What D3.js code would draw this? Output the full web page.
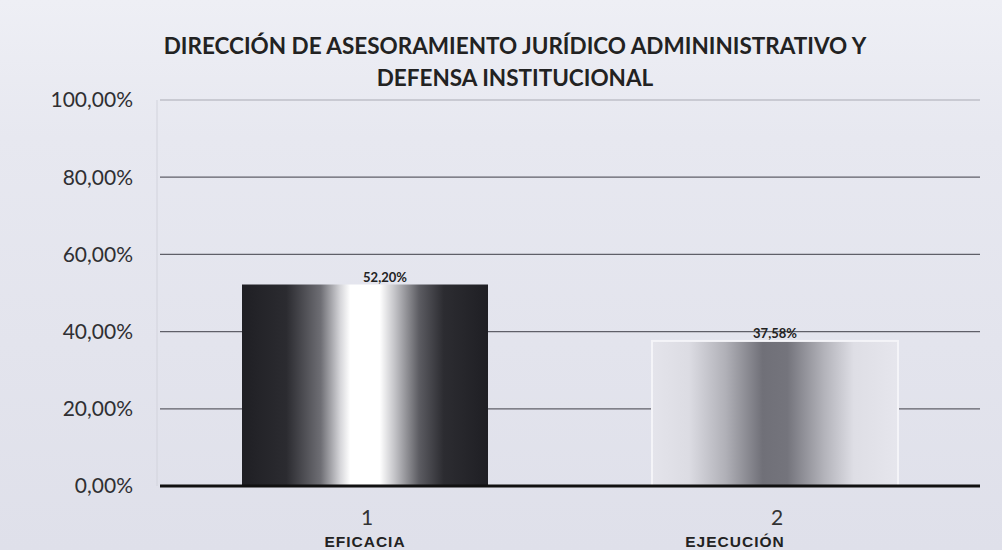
<!DOCTYPE html>
<html>
<head>
<meta charset="utf-8">
<script src="https://cdn.jsdelivr.net/npm/d3@7"></script>
<style>
  body { margin: 0; background: #e4e5ee; }
  svg { display: block; }
  .tick-y { font-family: Lato, "Open Sans", sans-serif; font-size: 21px; fill: #2f2f33; }
</style>
</head>
<body>
<svg id="grafico"></svg>
<script>
var categorias = ['1', '2'];
var nomes = ['EFICACIA', 'EJECUCIÓN'];
var valores = [52.20, 37.58];
var rotulos = ['52,20%', '37,58%'];
var ticksY = [0, 20, 40, 60, 80, 100];
var tickLabels = ['0,00%', '20,00%', '40,00%', '60,00%', '80,00%', '100,00%'];

var largura = 1002, altura = 550;
var margem = { esquerda: 160, direita: 22, superior: 100, inferior: 64 };

var svg = d3.select('#grafico')
            .attr('width', largura)
            .attr('height', altura);

var defs = svg.append('defs');

// fundo do papel escaneado
var fundo = defs.append('linearGradient').attr('id', 'fundo')
  .attr('x1', 0).attr('y1', 0).attr('x2', 0).attr('y2', 1);
fundo.append('stop').attr('offset', '0%').attr('stop-color', '#eeeff5');
fundo.append('stop').attr('offset', '25%').attr('stop-color', '#e7e8f0');
fundo.append('stop').attr('offset', '100%').attr('stop-color', '#dfe0ea');

var g1 = defs.append('linearGradient').attr('id', 'barra0')
  .attr('x1', 0).attr('y1', 0).attr('x2', 1).attr('y2', 0);
[['0%', '#1f1f24'], ['18%', '#2b2b30'], ['32%', '#6e6e74'], ['40%', '#d6d6da'],
 ['44%', '#ffffff'], ['56%', '#ffffff'], ['62%', '#c4c4c8'], ['72%', '#5c5c62'],
 ['82%', '#2c2c31'], ['100%', '#1f1f24']].forEach(function(s) {
  g1.append('stop').attr('offset', s[0]).attr('stop-color', s[1]);
});

var g2 = defs.append('linearGradient').attr('id', 'barra1')
  .attr('x1', 0).attr('y1', 0).attr('x2', 1).attr('y2', 0);
[['0%', '#e4e4eb'], ['15%', '#dcdce3'], ['30%', '#b0b0b7'], ['45%', '#707078'],
 ['55%', '#74747c'], ['70%', '#b3b3ba'], ['82%', '#dedee5'], ['100%', '#e6e6ed']].forEach(function(s) {
  g2.append('stop').attr('offset', s[0]).attr('stop-color', s[1]);
});

svg.append('rect').attr('width', largura).attr('height', altura).attr('fill', 'url(#fundo)');

var larguraPlotagem = largura - margem.esquerda - margem.direita;
var alturaPlotagem = altura - margem.superior - margem.inferior;

var plotagem = svg.append('g')
  .attr('transform', 'translate(' + margem.esquerda + ',' + margem.superior + ')');

var x = d3.scaleBand().domain(categorias).range([0, larguraPlotagem]).paddingInner(0.4).paddingOuter(0.2);
var y = d3.scaleLinear().domain([0, 100]).range([alturaPlotagem, 0]);

// linhas de grade
plotagem.selectAll('.grade')
  .data(ticksY.slice(1))
  .enter()
    .append('line')
    .attr('x1', 0).attr('x2', larguraPlotagem)
    .attr('y1', d => y(d)).attr('y2', d => y(d))
    .attr('stroke', d => d === 100 ? '#a9aab4' : '#5f5f68')
    .attr('stroke-width', 1.2);

// borda esquerda clara
plotagem.append('line')
  .attr('x1', -3).attr('x2', -3).attr('y1', 0).attr('y2', alturaPlotagem)
  .attr('stroke', '#d2d3dc').attr('stroke-width', 1);

// eixo y
svg.selectAll('.tick-y')
  .data(ticksY)
  .enter()
    .append('text')
    .classed('tick-y', true)
    .attr('x', margem.esquerda - 27)
    .attr('y', d => margem.superior + y(d))
    .attr('dy', '0.35em')
    .attr('text-anchor', 'end')
    .text((d, i) => tickLabels[i]);

// barras
plotagem.selectAll('.barra')
  .data(valores)
  .enter()
    .append('rect')
    .classed('barra', true)
    .attr('x', (d, i) => x(categorias[i]))
    .attr('y', d => y(d))
    .attr('width', x.bandwidth())
    .attr('height', d => alturaPlotagem - y(d))
    .attr('fill', (d, i) => 'url(#barra' + i + ')')
    .attr('stroke', (d, i) => i === 1 ? '#f4f4f8' : 'none')
    .attr('stroke-width', 2);

// eixo zero
plotagem.append('line')
  .attr('x1', 0).attr('x2', larguraPlotagem)
  .attr('y1', y(0)).attr('y2', y(0))
  .attr('stroke', '#111').attr('stroke-width', 3);

// rótulos de dados
plotagem.selectAll('.rotulo')
  .data(valores)
  .enter()
    .append('text')
    .attr('x', (d, i) => x(categorias[i]) + x.bandwidth() / 2 + (i === 0 ? 20 : 0))
    .attr('y', d => y(d) - 3)
    .attr('text-anchor', 'middle')
    .attr('font-family', 'Lato, "Open Sans", sans-serif')
    .attr('font-weight', 'bold')
    .attr('font-size', 13)
    .attr('fill', '#222')
    .text((d, i) => rotulos[i]);

// categorias
plotagem.selectAll('.cat')
  .data(categorias)
  .enter()
    .append('text')
    .attr('x', d => x(d) + x.bandwidth() / 2 + 2)
    .attr('y', alturaPlotagem + 39)
    .attr('text-anchor', 'middle')
    .attr('font-family', 'Lato, "Open Sans", sans-serif')
    .attr('font-size', 21)
    .attr('fill', '#333')
    .text(d => d);

plotagem.selectAll('.nome')
  .data(nomes)
  .enter()
    .append('text')
    .attr('x', (d, i) => x(categorias[i]) + x.bandwidth() / 2 + (i === 0 ? 0 : -40))
    .attr('y', alturaPlotagem + 61)
    .attr('text-anchor', 'middle')
    .attr('font-family', '"Liberation Sans", Arial, sans-serif')
    .attr('font-weight', 'bold')
    .attr('font-size', 15.5)
    .attr('letter-spacing', 1)
    .attr('fill', '#222')
    .text(d => d);

// título
var titulo = svg.append('text')
  .attr('text-anchor', 'middle')
  .attr('font-family', 'Lato, "Open Sans", sans-serif')
  .attr('font-weight', 'bold')
  .attr('font-size', 22.5)
  .attr('fill', '#222');
titulo.append('tspan').attr('x', 515).attr('y', 54)
  .text('DIRECCIÓN DE ASESORAMIENTO JURÍDICO ADMININISTRATIVO Y');
titulo.append('tspan').attr('x', 515).attr('y', 86)
  .text('DEFENSA INSTITUCIONAL');
</script>
</body>
</html>
